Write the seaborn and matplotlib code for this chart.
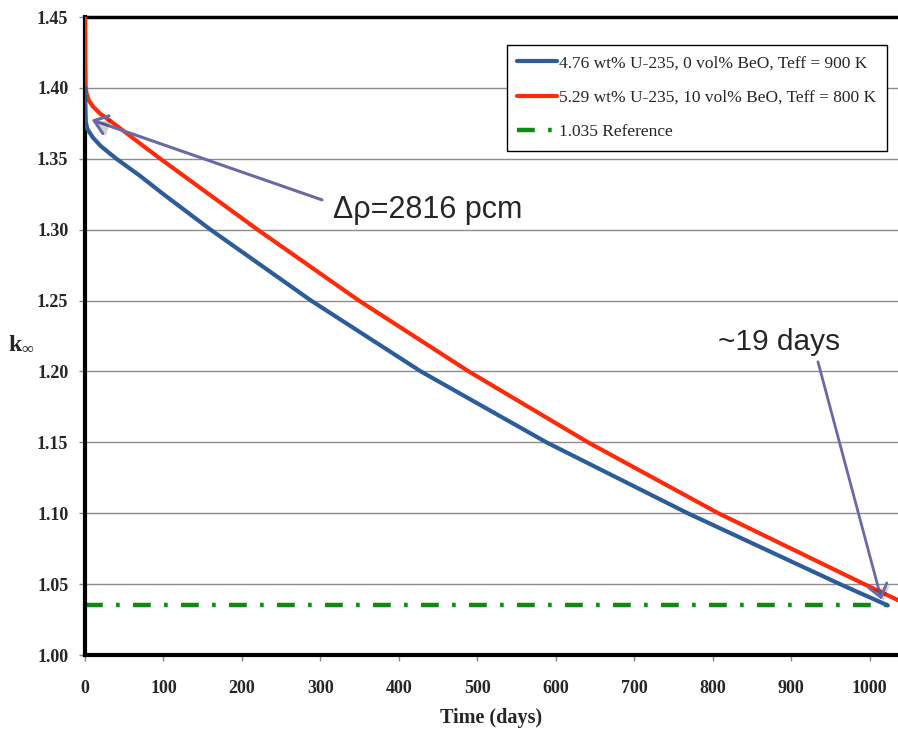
import matplotlib
matplotlib.use("Agg")
import matplotlib.pyplot as plt
import matplotlib.patheffects as pe
import seaborn as sns
import pandas as pd

# ---------------- data ----------------
blue_label = "4.76 wt% U-235, 0 vol% BeO, Teff = 900 K"
blue_days = [0, 0.3, 1, 3, 10, 20, 40, 70, 100, 160, 288, 428, 588, 768, 962, 1023]
blue_k = [1.400, 1.390, 1.376, 1.371, 1.365, 1.359, 1.350, 1.338, 1.325, 1.300,
          1.250, 1.200, 1.150, 1.100, 1.050, 1.035]

red_label = "5.29 wt% U-235, 10 vol% BeO, Teff = 800 K"
red_days = [0, 0.3, 0.8, 2, 5, 10, 19, 40, 66, 96, 220, 349, 489, 641, 807, 993, 1050]
red_k = [1.470, 1.420, 1.401, 1.396, 1.391, 1.387, 1.382, 1.3735, 1.3625, 1.350,
         1.300, 1.250, 1.200, 1.150, 1.100, 1.050, 1.035]

ref_label = "1.035 Reference"
ref_days = [0, 1023]
ref_k = [1.035, 1.035]

x_ticks = [0, 100, 200, 300, 400, 500, 600, 700, 800, 900, 1000]
y_ticks = [1.00, 1.05, 1.10, 1.15, 1.20, 1.25, 1.30, 1.35, 1.40, 1.45]

ann1_text = "Δρ=2816 pcm"
ann1_tip = (8.5, 1.3775)
ann1_tail = (302, 1.321)
ann1_text_pos = (316, 1.314)
ann2_text = "~19 days"
ann2_tip = (1015, 1.039)
ann2_tail = (934, 1.2068)
ann2_text_pos = (806, 1.221)

# ---------------- styling ----------------
sns.set_theme(style="white")
plt.rcParams["font.family"] = ["Liberation Serif", "DejaVu Serif"]
plt.rcParams["mathtext.fontset"] = "custom"
plt.rcParams["mathtext.rm"] = "Liberation Serif"
plt.rcParams["mathtext.bf"] = "Liberation Serif:bold"
plt.rcParams["mathtext.it"] = "Liberation Serif:italic"

BLUE = "#2c5d99"
RED = "#ff2a0a"
GREEN = "#0b8c12"
ARROW = "#6a69a6"

fig = plt.figure(figsize=(8.98, 7.31), dpi=100)
ax = fig.add_axes([85 / 898, 76 / 731, 1 - 85 / 898, (655 - 17) / 731])

df_blue = pd.DataFrame({"days": blue_days, "k": blue_k})
df_red = pd.DataFrame({"days": red_days, "k": red_k})
df_ref = pd.DataFrame({"days": ref_days, "k": ref_k})

sns.lineplot(data=df_blue, x="days", y="k", ax=ax, color=BLUE, lw=3.0,
             label=blue_label, zorder=4)
sns.lineplot(data=df_red, x="days", y="k", ax=ax, color=RED, lw=3.0,
             label=red_label, zorder=3)
sns.lineplot(data=df_ref, x="days", y="k", ax=ax, color=GREEN, lw=3.2,
             linestyle=(0, (4, 3, 0.8, 3)), label=ref_label, zorder=2)

ax.set_xlim(0, 1036)
ax.set_ylim(1.00, 1.45)
ax.set_xticks(x_ticks)
ax.set_yticks(y_ticks)
ax.set_xticklabels([str(t) for t in x_ticks])
ax.set_yticklabels([f"{t:.2f}" for t in y_ticks])

ax.yaxis.grid(True, color="#8c8c8c", lw=1.0)
ax.xaxis.grid(False)
ax.set_axisbelow(True)

for side in ["left", "bottom"]:
    ax.spines[side].set_color("black")
    ax.spines[side].set_linewidth(3.0)
ax.spines["top"].set_color("black")
ax.spines["top"].set_linewidth(2.5)
ax.spines["right"].set_visible(False)

ax.tick_params(axis="x", which="major", bottom=True, length=4, width=1,
               color="#888888", pad=14, labelsize=13)
ax.tick_params(axis="y", which="major", left=True, length=4, width=1,
               color="#888888", pad=8, labelsize=13)
for lbl in ax.get_xticklabels() + ax.get_yticklabels():
    lbl.set_fontweight("bold")

ax.set_xlabel("Time (days)", fontsize=14.5, fontweight="bold", labelpad=8)
ax.set_ylabel(r"$\mathbf{k}_{\infty}$", fontsize=17, rotation=0)
ax.yaxis.set_label_coords(-0.078, 0.47)

leg = ax.legend(loc="upper right", bbox_to_anchor=(887 / 898, 1 - 45 / 731),
                bbox_transform=fig.transFigure, frameon=True, fancybox=False,
                framealpha=1, edgecolor="black", fontsize=12.5,
                handlelength=2.3, handletextpad=0.15, labelspacing=1.05,
                borderpad=0.6, borderaxespad=0)
leg.get_frame().set_linewidth(1.0)

shadow = [pe.SimplePatchShadow(offset=(2, -2), shadow_rgbFace="#000000", alpha=0.18),
          pe.Normal()]
ann_font = ["Liberation Sans", "DejaVu Sans"]

for tip, tail, lw in [(ann1_tip, ann1_tail, 2.2), (ann2_tip, ann2_tail, 2.0)]:
    a = ax.annotate("", xy=tip, xytext=tail, xycoords="data", textcoords="data",
                    zorder=6,
                    arrowprops=dict(arrowstyle="->,head_length=0.6,head_width=0.45",
                                    color=ARROW, lw=lw, shrinkA=0, shrinkB=0,
                                    mutation_scale=15))
    a.arrow_patch.set_path_effects(shadow)

ax.text(*ann1_text_pos, ann1_text, fontsize=22, family=ann_font,
        ha="left", va="center", zorder=6)
ax.text(*ann2_text_pos, ann2_text, fontsize=21.5, family=ann_font,
        ha="left", va="center", zorder=6)

fig.savefig("out.png", dpi=100)
